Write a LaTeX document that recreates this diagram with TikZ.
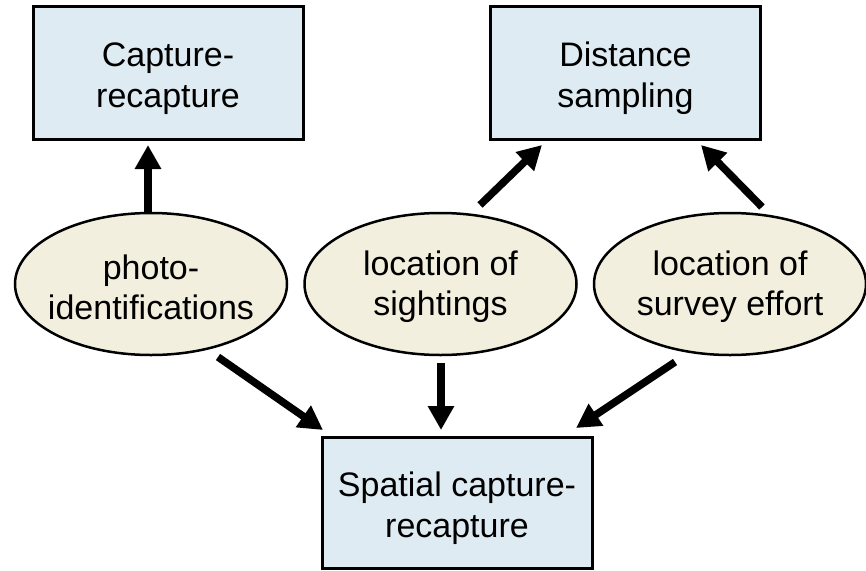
\documentclass[tikz,border=0pt]{standalone}
\usepackage{fontspec}
\setmainfont{Liberation Sans}
\usetikzlibrary{shapes.geometric,arrows.meta}
\definecolor{boxfill}{RGB}{222,235,242}
\definecolor{ovalfill}{RGB}{243,239,222}
% invisible strut that makes a label's first line taller, setting the label lower
\newcommand\lowerby[1]{\rule{0pt}{#1}}
\tikzset{
  method/.style={draw=black, line width=3pt, fill=boxfill, rectangle,
    minimum width=270pt, minimum height=133pt, inner sep=0pt,
    align=center, font=\fontsize{34}{41}\selectfont},
  % negative padding keeps the long labels from widening the ovals
  datum/.style={draw=black, line width=2.5pt, fill=ovalfill, ellipse,
    minimum width=272pt, minimum height=142pt, inner sep=-20pt,
    align=center, font=\fontsize{34}{40}\selectfont},
  feed/.style={line width=7.5pt, -{Triangle[length=24pt,width=25pt]}}
}
\begin{document}
\begin{tikzpicture}[x=1pt,y=1pt]
\useasboundingbox (0,0) rectangle (866,-570);
% analysis methods
\node[method] (capture)  at (168,-73)    {\lowerby{36pt}Capture-\\recapture};
\node[method] (distance) at (625.5,-73)  {\lowerby{36pt}Distance\\sampling};
\node[method, minimum height=131pt] (spatial) at (457,-502.5) {\lowerby{37pt}Spatial capture-\\recapture};
% data sources
\node[datum] (photo)     at (151,-284)   {\lowerby{31pt}photo-\\identifications};
\node[datum] (sightings) at (440.5,-284) {\lowerby{31pt}location of\\sightings};
\node[datum] (survey)    at (730,-284)   {\lowerby{31pt}location of\\survey effort};
% which data feed which method
\draw[feed] ([shift={(-3,72)}]photo.center)     -- ([shift={(-20,-72)}]capture.center);
\draw[feed] ([shift={(39.5,79)}]sightings.center) -- ([shift={(-83.5,-72)}]distance.center);
\draw[feed] ([shift={(32,77)}]survey.center)    -- ([shift={(75.5,-72)}]distance.center);
\draw[feed] ([shift={(67,-73)}]photo.center)    -- ([shift={(-134,72.5)}]spatial.center);
\draw[feed] ([shift={(0.5,-79)}]sightings.center) -- ([shift={(-16,72.5)}]spatial.center);
\draw[feed] ([shift={(-55,-78)}]survey.center)  -- ([shift={(119,74.5)}]spatial.center);
\end{tikzpicture}
\end{document}
